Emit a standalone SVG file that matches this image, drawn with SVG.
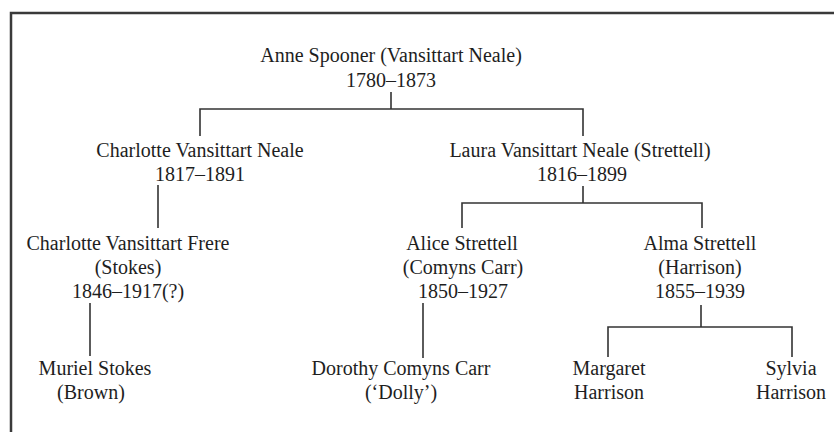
<svg xmlns="http://www.w3.org/2000/svg" width="834" height="432" viewBox="0 0 834 432">
<style>
text{font-family:"Liberation Serif","Times New Roman",serif;font-size:20px;fill:#1e1e1e;text-anchor:middle}
.ln{fill:none;stroke:#333;stroke-width:1.6}
.frame{fill:none;stroke:#3a3a3a;stroke-width:2.5}
</style>
<rect width="834" height="432" fill="#fff"/>
<path class="frame" d="M11 432 V13 H834"/>
<g id="connectors">
<path class="ln" d="M391 92 V109 M200 136 V109 H583 V136"/>
<path class="ln" d="M158 185 V228"/>
<path class="ln" d="M583 186 V203 M462 228 V203 H702 V228"/>
<path class="ln" d="M90 303 V356"/>
<path class="ln" d="M423 303 V358"/>
<path class="ln" d="M701 305 V327 M608 357 V327 H792 V357"/>
</g>
<g id="anne"><text x="391" y="62">Anne Spooner (Vansittart Neale)</text><text x="391" y="87">1780–1873</text></g>
<g id="charlotte-neale"><text x="200" y="157">Charlotte Vansittart Neale</text><text x="200" y="181">1817–1891</text></g>
<g id="laura"><text x="580" y="157">Laura Vansittart Neale (Strettell)</text><text x="582" y="181">1816–1899</text></g>
<g id="charlotte-frere"><text x="128" y="250">Charlotte Vansittart Frere</text><text x="128" y="274">(Stokes)</text><text x="128" y="298">1846–1917(?)</text></g>
<g id="alice"><text x="462" y="250">Alice Strettell</text><text x="463" y="274">(Comyns Carr)</text><text x="463" y="298">1850–1927</text></g>
<g id="alma"><text x="700" y="250">Alma Strettell</text><text x="700" y="274">(Harrison)</text><text x="700" y="298">1855–1939</text></g>
<g id="muriel"><text x="95" y="375">Muriel Stokes</text><text x="91" y="399">(Brown)</text></g>
<g id="dorothy"><text x="401" y="375">Dorothy Comyns Carr</text><text x="401" y="399">(‘Dolly’)</text></g>
<g id="margaret"><text x="609" y="375">Margaret</text><text x="609" y="399">Harrison</text></g>
<g id="sylvia"><text x="791" y="375">Sylvia</text><text x="791" y="399">Harrison</text></g>
</svg>
